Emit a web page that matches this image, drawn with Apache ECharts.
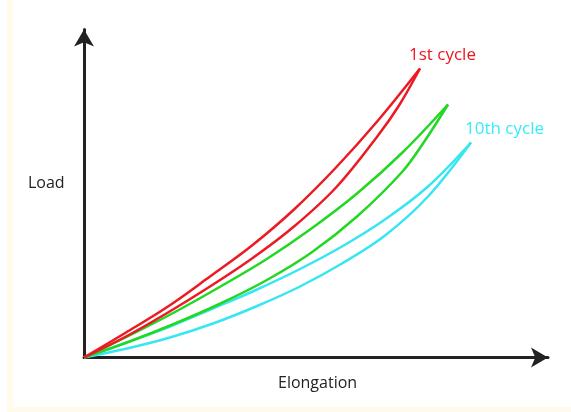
<!DOCTYPE html>
<html>
<head>
<meta charset="utf-8">
<script src="https://cdn.jsdelivr.net/npm/echarts@6/dist/echarts.min.js"></script>
<style>
  html, body { margin: 0; padding: 0; background: #ffffff; }
  #chart { width: 571px; height: 412px; }
</style>
</head>
<body>
<div id="chart"></div>
<script>
// Elongation values (arbitrary units) and load values for each branch of each cycle
const cycle1Upper = [[0,0],[42,25],[84,51],[126,81],[168,112],[210,148],[252,190],[294,237],[336,289]];
const cycle1Lower = [[0,0],[42,21],[84,45],[126,71],[168,99],[210,131],[252,170],[294,222],[315,252],[336,289]];
const cycleMidUpper = [[0,0],[45.5,22],[91,45.5],[136.5,71],[182,98],[227.5,129],[273,164],[318.5,205],[364,253]];
const cycleMidLower = [[0,0],[45.5,16],[91,34],[136.5,54],[182,77],[227.5,105],[273,141],[318.5,186],[341,217],[364,253]];
const cycle10Upper = [[0,0],[43,15],[86,31],[129,49],[172,67.5],[215,88],[258,111],[301,138],[344,171],[387,215]];
const cycle10Lower = [[0,0],[43,9],[86,20],[129,34],[172,51],[215,70.5],[258,94],[301,122],[344,161],[387,215]];
const labels = { first: '1st cycle', tenth: '10th cycle', xName: 'Elongation', yName: 'Load' };

const RED = '#ec1a22', GREEN = '#22d822', CYAN = '#38e6f2';

const chart = echarts.init(document.getElementById('chart'));
function branch(data, color) {
  return { type: 'line', data: data, smooth: 0.35, showSymbol: false, symbol: 'none',
           lineStyle: { color: color, width: 2.5 }, z: 3, silent: true };
}
chart.setOption({
  backgroundColor: '#ffffff',
  animation: false,
  grid: { left: 84, right: 23, top: 29.5, bottom: 54.5 },
  xAxis: {
    type: 'value', min: 0, max: 464,
    axisLine: { show: true, symbol: ['none', 'arrow'], symbolSize: [15, 17],
                lineStyle: { color: '#222222', width: 3 } },
    axisTick: { show: false }, axisLabel: { show: false }, splitLine: { show: false }
  },
  yAxis: {
    type: 'value', min: 0, max: 328,
    axisLine: { show: true, symbol: ['none', 'arrow'], symbolSize: [15, 17],
                lineStyle: { color: '#222222', width: 3 } },
    axisTick: { show: false }, axisLabel: { show: false }, splitLine: { show: false }
  },
  graphic: [
    { type: 'rect', shape: { x: 7, y: 0, width: 6, height: 412 }, style: { fill: '#fffaea' }, z: -10 },
    { type: 'rect', shape: { x: 7, y: 407, width: 564, height: 5 }, style: { fill: '#fffaea' }, z: -10 },
    { type: 'text', left: 409, top: 47, style: { text: labels.first, fill: '#f0141e', font: '17px "Open Sans"' } },
    { type: 'text', left: 465, top: 121, style: { text: labels.tenth, fill: '#36ecf8', font: '17px "Open Sans"' } },
    { type: 'text', left: 28, top: 175, style: { text: labels.yName, fill: '#222222', font: '16px "Open Sans"' } },
    { type: 'text', left: 278, top: 375, style: { text: labels.xName, fill: '#222222', font: '16px "Open Sans"' } }
  ],
  series: [
    branch(cycle10Upper, CYAN), branch(cycle10Lower, CYAN),
    branch(cycleMidUpper, GREEN), branch(cycleMidLower, GREEN),
    branch(cycle1Upper, RED), branch(cycle1Lower, RED)
  ]
});
</script>
</body>
</html>
